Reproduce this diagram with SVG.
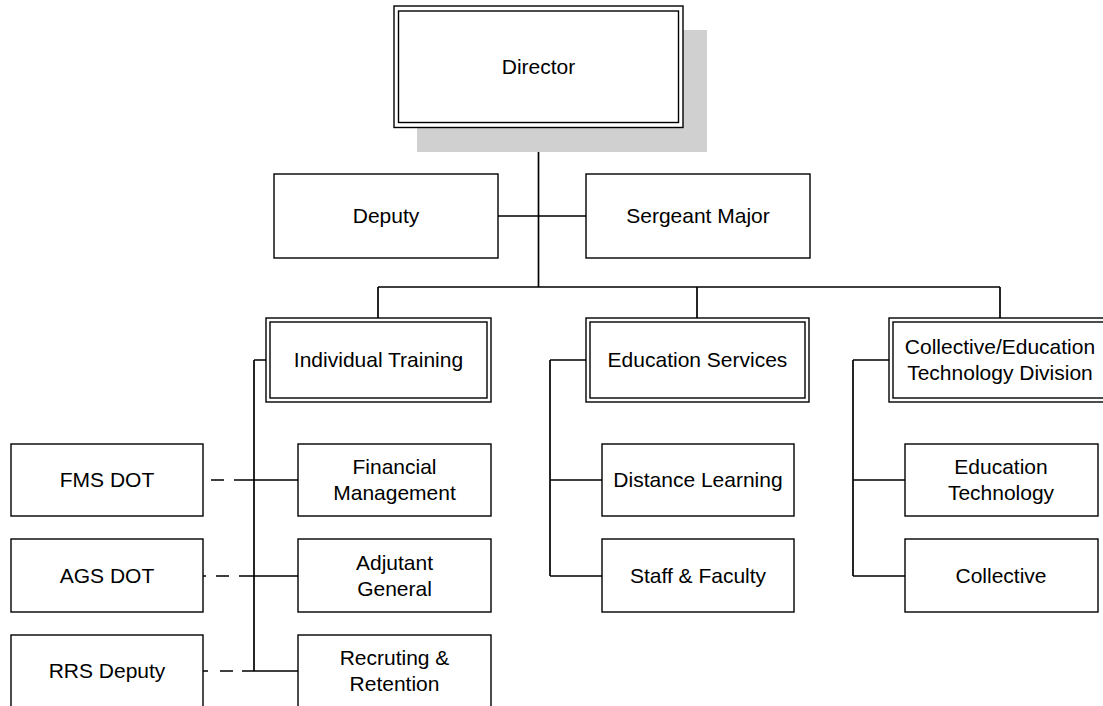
<svg xmlns="http://www.w3.org/2000/svg" width="1103" height="706" viewBox="0 0 1103 706">
<style>
.box{fill:#fff;stroke:#000;stroke-width:1.4}
.dbl{fill:none;stroke:#000;stroke-width:1.4}
.ln{fill:none;stroke:#000;stroke-width:1.7}
.dash{fill:none;stroke:#000;stroke-width:1.6}
text{font-family:"Liberation Sans",Arial,sans-serif;font-size:21px;fill:#000;text-anchor:middle}
</style>
<rect width="1103" height="706" fill="#fff"/>
<g id="connectors">
<path class="ln" d="M538.5 127 V287 M498 216 H586 M378 287 H1000 M378 287 V318 M697 287 V318 M1000 287 V318"/>
<path class="ln" d="M254 360 V671 M254 360 H266 M254 480 H298 M254 576 H298 M254 671 H298"/>
<path class="ln" d="M550 360 V576 M550 360 H586 M550 480 H602 M550 576 H602"/>
<path class="ln" d="M853 360 V576 M853 360 H889 M853 480 H905 M853 576 H905"/>
<path class="dash" d="M211 480 H224 M234 480 H254"/>
<path class="dash" d="M203 576 H206 M216 576 H229 M239 576 H254"/>
<path class="dash" d="M203 671 H208 M220 671 H233 M242 671 H254"/>
</g>
<g id="director">
<rect x="417" y="30" width="290" height="122" fill="#d0d0d0"/>
<rect class="box" x="394" y="6" width="289" height="121.5"/>
<rect class="dbl" x="398.5" y="11" width="280" height="111.5"/>
<text x="538.5" y="73.5">Director</text>
</g>
<g id="deputy">
<rect class="box" x="274" y="174" width="224" height="84"/>
<text x="386" y="223">Deputy</text>
</g>
<g id="sergeant-major">
<rect class="box" x="586" y="174" width="224" height="84"/>
<text x="698" y="223">Sergeant Major</text>
</g>
<g id="individual-training">
<rect class="box" x="266" y="318" width="225" height="84"/>
<rect class="dbl" x="270" y="322" width="217" height="76"/>
<text x="378.5" y="367">Individual Training</text>
</g>
<g id="education-services">
<rect class="box" x="586" y="318" width="223" height="84"/>
<rect class="dbl" x="590" y="322" width="215" height="76"/>
<text x="697.5" y="367">Education Services</text>
</g>
<g id="collective-education">
<rect class="box" x="889" y="318" width="222" height="84"/>
<rect class="dbl" x="893" y="322" width="214" height="76"/>
<text x="1000" y="354">Collective/Education</text>
<text x="1000" y="379.5">Technology Division</text>
</g>
<g id="fms-dot">
<rect class="box" x="11" y="444" width="192" height="72"/>
<text x="107" y="487">FMS DOT</text>
</g>
<g id="ags-dot">
<rect class="box" x="11" y="539" width="192" height="73"/>
<text x="107" y="583">AGS DOT</text>
</g>
<g id="rrs-deputy">
<rect class="box" x="11" y="635" width="192" height="74"/>
<text x="107" y="678">RRS Deputy</text>
</g>
<g id="financial-management">
<rect class="box" x="298" y="444" width="193" height="72"/>
<text x="394.5" y="473.5">Financial</text>
<text x="394.5" y="499.5">Management</text>
</g>
<g id="adjutant-general">
<rect class="box" x="298" y="539" width="193" height="73"/>
<text x="394.5" y="569.5">Adjutant</text>
<text x="394.5" y="595.5">General</text>
</g>
<g id="recruiting-retention">
<rect class="box" x="298" y="635" width="193" height="74"/>
<text x="394.5" y="665">Recruting &amp;</text>
<text x="394.5" y="690.5">Retention</text>
</g>
<g id="distance-learning">
<rect class="box" x="602" y="444" width="192" height="72"/>
<text x="698" y="487">Distance Learning</text>
</g>
<g id="staff-faculty">
<rect class="box" x="602" y="539" width="192" height="73"/>
<text x="698" y="583">Staff &amp; Faculty</text>
</g>
<g id="education-technology">
<rect class="box" x="905" y="444" width="193" height="72"/>
<text x="1001" y="473.5">Education</text>
<text x="1001" y="499.5">Technology</text>
</g>
<g id="collective">
<rect class="box" x="905" y="539" width="193" height="73"/>
<text x="1001" y="583">Collective</text>
</g>
</svg>
